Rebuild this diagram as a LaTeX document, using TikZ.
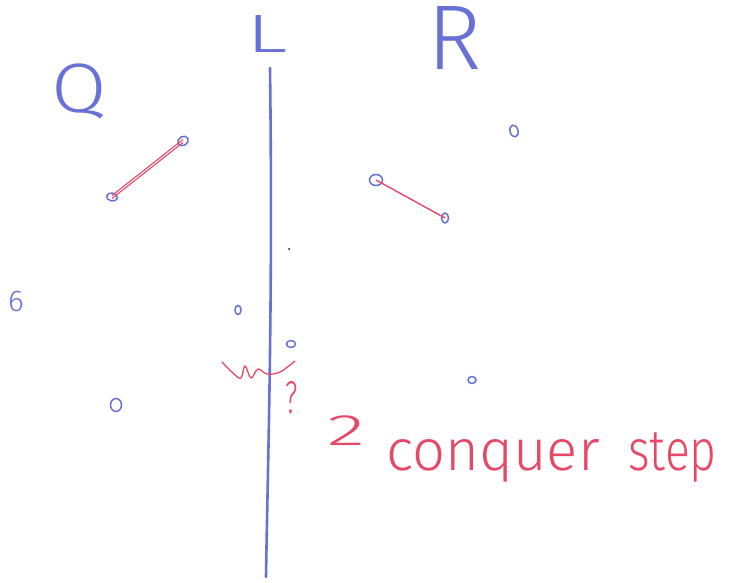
\documentclass[tikz,border=0pt]{standalone}
\usepackage{fontspec}
\usetikzlibrary{shapes.geometric}
\newfontfamily\hand{Fira Sans}[UprightFont={* Light}]
\definecolor{penblue}{RGB}{104,114,214}
\definecolor{penred}{RGB}{232,72,104}
\tikzset{
  pt/.style={ellipse, draw=penblue, line width=1.5pt, inner sep=0pt},
  bluetxt/.style={text=penblue, inner sep=0pt},
  redtxt/.style={text=penred, inner sep=0pt},
  redseg/.style={draw=penred, line width=1.1pt},
}
\begin{document}
\begin{tikzpicture}[x=1pt,y=-1pt]
\useasboundingbox (0,0) rectangle (739,583);
\fill[white] (0,0) rectangle (739,583);
% dividing line
\coordinate (ltop) at (270,68);
\coordinate (lbot) at (266,577);
\draw[penblue, line width=2.6pt, line cap=round] (ltop) .. controls (273,300) and (268,450) .. (lbot);
% labels
\node[bluetxt, font=\hand\fontsize{54}{54}\selectfont, xscale=1.6] (L) at (267,34) {L};
\node[bluetxt, font=\hand\fontsize{92}{92}\selectfont] (R) at (455,38) {R};
\node[bluetxt, font=\hand\fontsize{70}{70}\selectfont, xscale=1.15] (Q) at (79,91) {Q};
\node[bluetxt, font=\hand\fontsize{30}{30}\selectfont] (six) at (16,302) {6};
% points
\node[pt, minimum width=11pt, minimum height=9pt, rotate=30] (p1) at (183,141) {};
\node[pt, minimum width=11pt, minimum height=8pt, rotate=-10] (p2) at (112,197) {};
\node[pt, minimum width=13pt, minimum height=11pt] (p3) at (376,180) {};
\node[pt, minimum width=7pt, minimum height=10pt] (p4) at (445,218) {};
\node[pt, minimum width=8pt, minimum height=12pt, rotate=15] (p5) at (514,131) {};
\node[pt, minimum width=6pt, minimum height=9pt] (p6) at (238,310) {};
\node[pt, minimum width=9pt, minimum height=7pt] (p7) at (291,344) {};
\node[pt, minimum width=11pt, minimum height=13pt] (p8) at (116,405) {};
\node[pt, minimum width=8pt, minimum height=7pt] (p9) at (472,380) {};
\fill[black] (289,249) circle (1pt);
% red segments
\draw[redseg] ([yshift=-1.5pt]p2.center) -- ([yshift=-1.5pt]p1.center);
\draw[redseg] ([yshift=1.5pt]p2.center) -- ([yshift=1.5pt]p1.center);
\draw[redseg, line width=1.4pt] (p3.center) -- (p4.center);
% red squiggle and question mark
\draw[penred, line width=1.3pt, line cap=round, line join=round]
  plot[smooth, tension=0.6] coordinates {(222,362) (234,374) (241,378) (245,366) (251,378) (258,369) (267,374) (280,372) (295,361)};
\node[redtxt, font=\hand\fontsize{46}{46}\selectfont, xscale=0.6] (qm) at (292,398) {?};
% red text
\node[redtxt, font=\hand\fontsize{44}{44}\selectfont, anchor=base, xscale=1.8] (two) at (346,445) {2};
\node[redtxt, font=\hand\fontsize{58}{58}\selectfont, anchor=base west] (conquer) at (386,470) {conquer};
\node[redtxt, font=\hand\fontsize{58}{58}\selectfont, anchor=base west, xscale=0.8] (step) at (628,470) {step};
\end{tikzpicture}
\end{document}
